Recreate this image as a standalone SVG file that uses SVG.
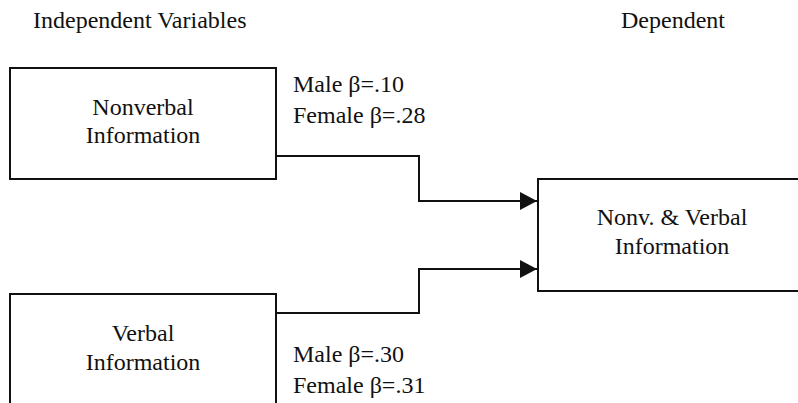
<svg xmlns="http://www.w3.org/2000/svg" width="798" height="403" viewBox="0 0 798 403">
  <style>
    text { font-family: "Liberation Serif", "Times New Roman", serif; font-size: 24px; fill: #111; }
    .mid { text-anchor: middle; }
    .box { fill: none; stroke: #111; stroke-width: 2; }
    .wire { fill: none; stroke: #111; stroke-width: 2; }
  </style>
  <defs>
    <!-- solid triangular head, tip sits on the end point -->
    <marker id="arrow" viewBox="0 0 17 18" refX="17" refY="9" markerWidth="17" markerHeight="18" markerUnits="userSpaceOnUse" orient="auto">
      <path d="M0,0 L17,9 L0,18 Z" fill="#111"/>
    </marker>
  </defs>
  <rect width="798" height="403" fill="#fff"/>

  <g id="headings">
    <text x="33" y="28">Independent Variables</text>
    <text x="621" y="28">Dependent</text>
  </g>

  <g id="nonverbal">
    <rect class="box" x="10" y="68" width="266" height="111"/>
    <text class="mid" x="143" y="115">Nonverbal</text>
    <text class="mid" x="143" y="143">Information</text>
  </g>

  <g id="verbal">
    <rect class="box" x="10" y="294" width="266" height="130"/>
    <text class="mid" x="143" y="341">Verbal</text>
    <text class="mid" x="143" y="370">Information</text>
  </g>

  <g id="combined">
    <rect class="box" x="538" y="179" width="280" height="112"/>
    <text class="mid" x="672" y="225">Nonv. &amp; Verbal</text>
    <text class="mid" x="672" y="254">Information</text>
  </g>

  <g id="connectors">
    <polyline class="wire" points="276,156 419,156 419,201 537,201" marker-end="url(#arrow)"/>
    <polyline class="wire" points="276,313 419,313 419,269 537,269" marker-end="url(#arrow)"/>
  </g>

  <g id="weights">
    <text x="293" y="92">Male β=.10</text>
    <text x="293" y="123">Female β=.28</text>
    <text x="293" y="362">Male β=.30</text>
    <text x="293" y="393">Female β=.31</text>
  </g>
</svg>
